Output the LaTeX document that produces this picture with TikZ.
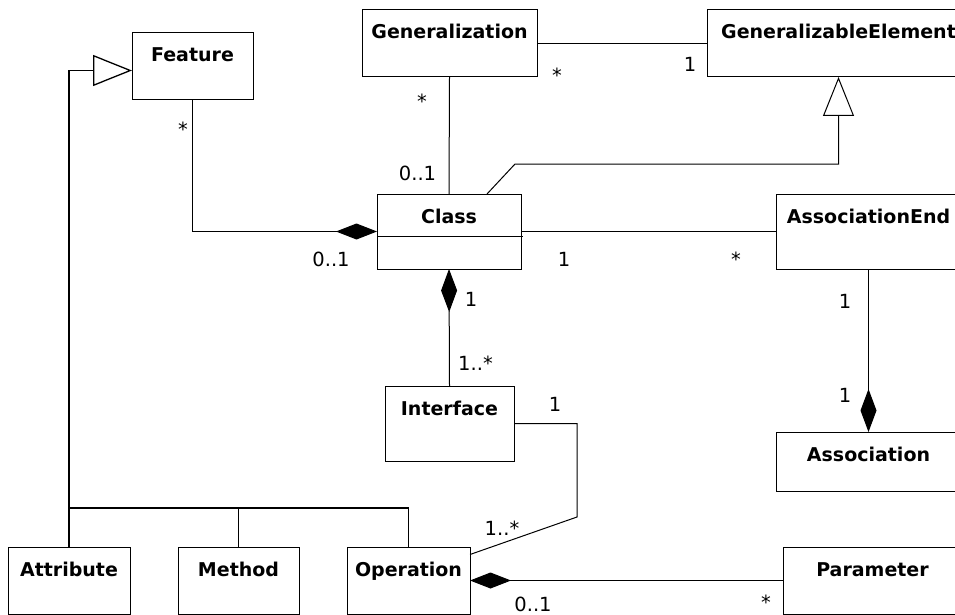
\documentclass[tikz,border=0pt]{standalone}
\usepackage{fontspec}
\setmainfont{DejaVu Sans}
\usetikzlibrary{arrows.meta,calc}
\begin{document}
\begin{tikzpicture}[x=1pt,y=-1pt,
  box/.style={draw, line width=1pt, rectangle, inner sep=0pt, outer sep=0pt},
  ttl/.style={font=\fontsize{19}{22}\selectfont\bfseries, anchor=base, inner sep=0pt},
  lab/.style={font=\fontsize{19.5}{22}\selectfont, anchor=base, inner sep=0pt},
  con/.style={line width=1pt},
  tree/.style={line width=1.3pt},
  compH/.style={con, {Diamond[length=41pt,width=16pt]}-},
  compV/.style={con, {Diamond[length=43pt,width=16pt]}-},
  inh/.style={-{Triangle[open,length=39pt,width=31pt]}}
]
\path[use as bounding box] (0,0) rectangle (955,615);
\clip (0,0) rectangle (955,615);

% boxes
\node[box, minimum width=121pt, minimum height=67pt] (feature) at (192.5,66.5) {};
\node[box, minimum width=175pt, minimum height=67pt] (gen) at (449.5,43.5) {};
\node[box, minimum width=263pt, minimum height=67pt] (genel) at (838.5,43.5) {};
\node[box, minimum width=144pt, minimum height=75pt] (class) at (449,231.5) {};
\node[box, minimum width=185pt, minimum height=75pt] (assocend) at (868.5,231.5) {};
\node[box, minimum width=129pt, minimum height=75pt] (interface) at (449.5,423.5) {};
\node[box, minimum width=185pt, minimum height=59pt] (assoc) at (868.5,461.5) {};
\node[box, minimum width=122pt, minimum height=67pt] (attr) at (69,580.5) {};
\node[box, minimum width=121pt, minimum height=67pt] (method) at (238.5,580.5) {};
\node[box, minimum width=123pt, minimum height=67pt] (oper) at (408.5,580.5) {};
\node[box, minimum width=179pt, minimum height=67pt] (param) at (872.5,580.5) {};

% titles
\node[ttl] (featureT) at ($(feature.north)+(0,29)$) {Feature};
\node[ttl] (genT) at ($(gen.north)+(0,29)$) {Generalization};
\node[ttl] (genelT) at ($(genel.north)+(0,29)$) {GeneralizableElement};
\node[ttl] (classT) at ($(class.north)+(0,29)$) {Class};
\node[ttl] (assocendT) at ($(assocend.north)+(0,29)$) {AssociationEnd};
\node[ttl] (interfaceT) at ($(interface.north)+(0,29)$) {Interface};
\node[ttl] (assocT) at ($(assoc.north)+(0,29)$) {Association};
\node[ttl] (attrT) at ($(attr.north)+(0,29)$) {Attribute};
\node[ttl] (methodT) at ($(method.north)+(0,29)$) {Method};
\node[ttl] (operT) at ($(oper.north)+(0,29)$) {Operation};
\node[ttl] (paramT) at ($(param.north)+(0,29)$) {Parameter};

% class divider
\draw[con] ($(class.north west)+(0,42)$) -- ($(class.north east)+(2,42)$);

% generalization tree to Feature
\coordinate (junc) at (69,508);
\draw[tree] (attr.north) -- (junc) -- (junc -| oper.north) -- (oper.north);
\draw[tree] (method.north) -- (method.north |- junc);
\draw[tree, inh] (junc) |- ([yshift=-4pt]feature.west);

% Class inherits GeneralizableElement
\draw[con, inh] ([xshift=38pt]class.north) -- ++(28,-30) -| (genel.south);

% associations
\draw[con] (gen.east) -- (genel.west);
\draw[con] (gen.south) -- (class.north);
\draw[compH] (class.west) -| (feature.south);
\draw[con] (class.east) -- (assocend.west);
\draw[compV] (class.south) -- (interface.north);
\draw[compV] (assoc.north) -- (assocend.south);
\coordinate (bend1) at (577,423.5);
\coordinate (bend2) at (577,517);
\draw[con] (interface.east) -- (bend1) -- (bend2) -- ([yshift=26pt]oper.east);
\draw[compH] (oper.east) -- (param.west);

% multiplicities
\node[lab] (m1) at (183,136.5) {*};
\node[lab] (m2) at (331,266) {0..1};
\node[lab] (m3) at (422,109) {*};
\node[lab] (m4) at (417.5,180) {0..1};
\node[lab] (m5) at (557,83) {*};
\node[lab] (m6) at (690,72) {1};
\node[lab] (m7) at (564,266) {1};
\node[lab] (m8) at (736,266.5) {*};
\node[lab] (m9) at (471,306) {1};
\node[lab] (m10) at (475.5,370) {1..*};
\node[lab] (m11) at (845,308) {1};
\node[lab] (m12) at (845,402) {1};
\node[lab] (m13) at (555,411) {1};
\node[lab] (m14) at (502,535) {1..*};
\node[lab] (m15) at (533,611) {0..1};
\node[lab] (m16) at (766,609) {*};
\end{tikzpicture}
\end{document}
